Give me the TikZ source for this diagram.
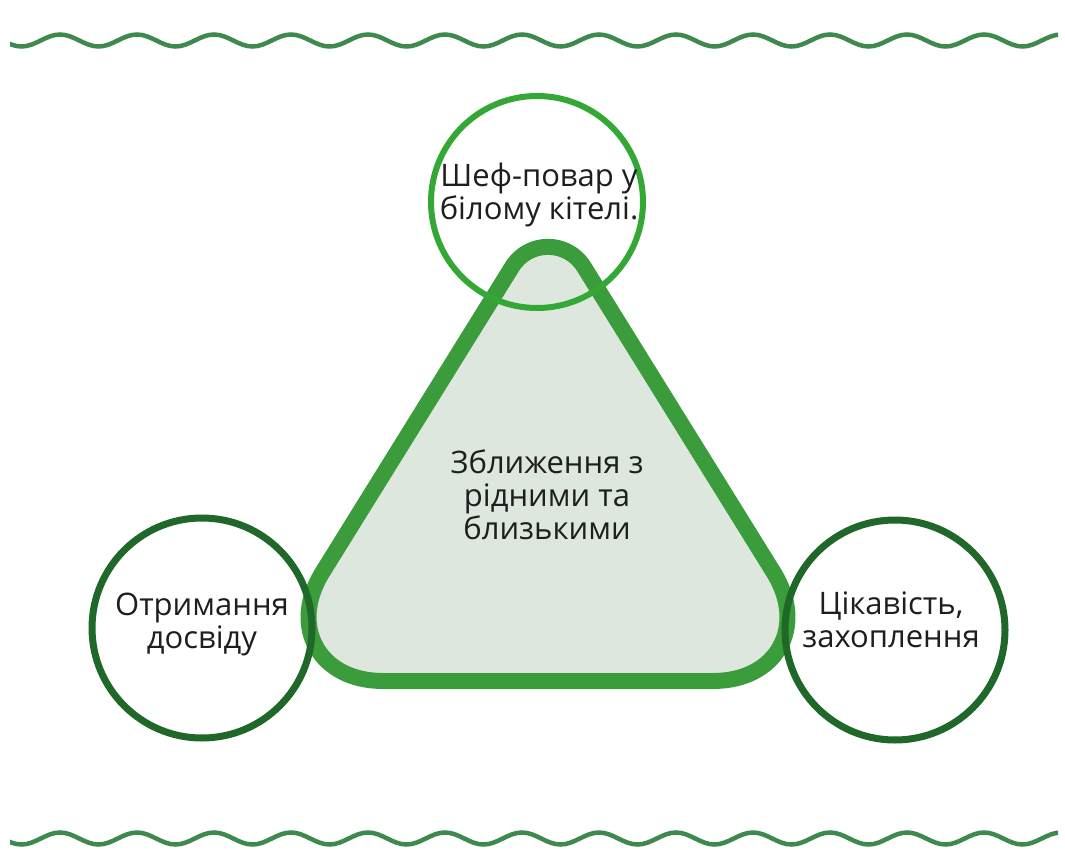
\documentclass[tikz,border=0pt]{standalone}
\usepackage{fontspec}
\setmainfont{Open Sans}
\usetikzlibrary{calc}
\definecolor{wavec}{RGB}{62,138,78}
\definecolor{triline}{RGB}{58,156,58}
\definecolor{trifill}{RGB}{222,231,222}
\definecolor{topring}{RGB}{52,168,52}
\definecolor{darkring}{RGB}{32,104,42}
\definecolor{txt}{RGB}{30,30,30}
\tikzset{
  wave/.style={draw=wavec, line width=4.5pt},
  tri/.style={draw=triline, fill=trifill, line width=16pt, line join=round},
  ringtop/.style={draw=topring, line width=6pt},
  ringdark/.style={draw=darkring, line width=7pt},
  lbl/.style={align=center, text=txt, inner sep=0pt, font=\fontsize{31}{33}\selectfont}
}
\begin{document}
\begin{tikzpicture}[x=1pt,y=-1pt]
\useasboundingbox[fill=white] (0,0) rectangle (1065,850);
% waves
\begin{scope}
\clip (10,0) rectangle (1058,850);
\draw[wave] (2.25,40.5) sin ++(19.25,6)
  \foreach \i in {0,...,13} { cos ++(19.25,-6) sin ++(19.25,-6) cos ++(19.25,6) sin ++(19.25,6) };
\draw[wave] (2.25,838.5) sin ++(19.25,6)
  \foreach \i in {0,...,13} { cos ++(19.25,-6) sin ++(19.25,-6) cos ++(19.25,6) sin ++(19.25,6) };
\end{scope}
% triangle
\coordinate (A) at (548,209);
\coordinate (B) at (255,681);
\coordinate (C) at (841,681);
\coordinate (A1) at ($(A)!68pt!(B)$);
\coordinate (A2) at ($(A)!68pt!(C)$);
\coordinate (B1) at ($(B)!128pt!(A)$);
\coordinate (B2) at ($(B)!128pt!(C)$);
\coordinate (C1) at ($(C)!128pt!(B)$);
\coordinate (C2) at ($(C)!128pt!(A)$);
\draw[tri] (B2) -- (C1) .. controls ($(C1)!0.5!(C)$) and ($(C2)!0.5!(C)$) .. (C2)
  -- (A2) .. controls ($(A2)!0.46!(A)$) and ($(A1)!0.46!(A)$) .. (A1)
  -- (B1) .. controls ($(B1)!0.5!(B)$) and ($(B2)!0.5!(B)$) .. (B2) -- cycle;
% circles
\node[circle, ringtop, minimum size=212pt, inner sep=0pt] (top) at (537,202) {};
\node[circle, ringdark, minimum size=220pt, inner sep=0pt] (left) at (202,628) {};
\node[circle, ringdark, minimum size=220pt, inner sep=0pt] (right) at (895,630) {};
% labels
\node[lbl] (ttop) at (539,195) {Шеф-повар у\\білому кітелі.};
\node[lbl] (tmid) at (547,495) {Зближення з\\рідними та\\близькими};
\node[lbl] (tleft) at (202,624) {Отримання\\досвіду};
\node[lbl] (tright) at (891,620) {Цікавість,\\захоплення};
\end{tikzpicture}
\end{document}
